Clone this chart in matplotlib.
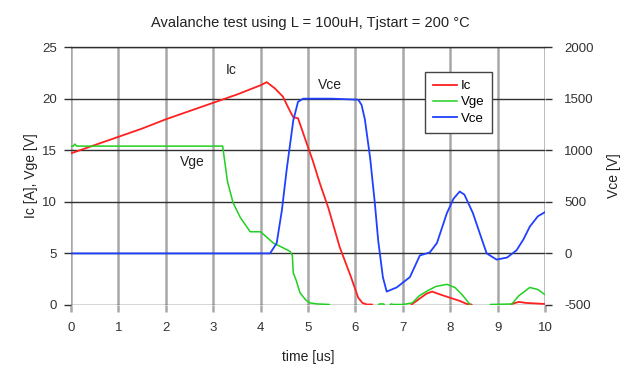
import matplotlib.pyplot as plt
import numpy as np

plt.rcParams['font.family'] = ['Liberation Sans', 'DejaVu Sans']
plt.rcParams['axes.unicode_minus'] = False

# Collector current Ic [A]
ic_t = [0.0, 0.5, 1.0, 1.5, 2.0, 2.5, 3.0, 3.5, 4.0, 4.13, 4.3, 4.47, 4.62, 4.69,
        4.79, 4.97, 5.1, 5.25, 5.43, 5.67, 5.9, 6.06, 6.15, 6.24, 6.35, 6.4,
        7.1, 7.2, 7.35, 7.5, 7.62, 7.8, 8.0, 8.2, 8.35, 8.45, 8.5, 9.25, 9.3,
        9.45, 9.6, 9.8, 10.0]
ic_val = [14.7, 15.5, 16.3, 17.1, 18.0, 18.8, 19.6, 20.4, 21.3, 21.6, 21.0, 20.2,
          18.8, 18.2, 18.1, 15.7, 14.0, 11.8, 9.4, 5.6, 2.8, 0.7, 0.2, 0.05,
          0.05, -0.4, -0.4, 0.1, 0.6, 1.1, 1.3, 1.0, 0.7, 0.4, 0.1, 0.05, -0.4,
          -0.4, 0.1, 0.3, 0.2, 0.15, 0.1]

# Gate voltage Vge [V]
vge_t = [0.0, 0.05, 0.08, 0.12, 1.0, 2.0, 3.0, 3.2, 3.3, 3.42, 3.57, 3.78, 4.0,
         4.27, 4.45, 4.62, 4.67, 4.69, 4.75, 4.83, 4.95, 5.04, 5.2, 5.45, 5.5,
         6.45, 6.5, 6.6, 6.65, 6.75, 6.8, 7.0, 7.2, 7.35, 7.53, 7.7, 7.93, 8.1,
         8.25, 8.42, 8.45, 8.8, 8.85, 9.3, 9.45, 9.68, 9.85, 10.0]
vge_val = [15.4, 15.4, 15.6, 15.4, 15.4, 15.4, 15.4, 15.4, 12.0, 9.9, 8.5, 7.1,
           7.1, 6.0, 5.6, 5.2, 4.8, 3.1, 2.4, 1.2, 0.5, 0.2, 0.1, 0.05, -0.4,
           -0.4, 0.1, 0.1, -0.4, 0.1, 0.05, 0.05, 0.2, 0.9, 1.4, 1.8, 2.0, 1.7,
           1.0, 0.05, -0.4, -0.4, 0.05, 0.1, 0.9, 1.7, 1.5, 1.0]

# Collector-emitter voltage Vce [V]
vce_t = [0.0, 1.0, 2.0, 3.0, 4.0, 4.2, 4.34, 4.45, 4.55, 4.69, 4.79, 4.9, 5.5,
         6.06, 6.13, 6.2, 6.31, 6.41, 6.48, 6.58, 6.66, 6.87, 7.15, 7.36, 7.57,
         7.72, 7.93, 8.07, 8.2, 8.3, 8.48, 8.65, 8.77, 8.98, 9.2, 9.4, 9.55,
         9.68, 9.85, 10.0]
vce_val = [0, 0, 0, 0, 0, 0, 100, 420, 810, 1290, 1470, 1500, 1500, 1490, 1440,
           1300, 930, 490, 130, -230, -370, -330, -230, -20, 10, 100, 390, 530,
           600, 570, 390, 160, 0, -60, -40, 30, 140, 260, 360, 400]

x_ticks = np.arange(0, 11, 1)
left_ticks = [0, 5, 10, 15, 20, 25]
right_ticks = [-500, 0, 500, 1000, 1500, 2000]

fig = plt.figure(figsize=(6.2, 3.65), dpi=100)
ax = fig.add_axes([0.1145, 0.1644, 0.7645, 0.7066])

ax.plot(ic_t, ic_val, color='#ff2020', lw=1.3, zorder=3)
ax.plot(vge_t, vge_val, color='#20d020', lw=1.1, zorder=3)

ax.set_xlim(0, 10)
ax.set_ylim(0, 25)
ax.set_xticks(x_ticks)
ax.set_yticks(left_ticks)

ax.grid(axis='x', color='#a8a8a8', lw=1.8)
ax.grid(axis='y', color='#303030', lw=1.0)
ax.set_axisbelow(True)
for side in ['left', 'right', 'bottom']:
    ax.spines[side].set_visible(False)
ax.spines['top'].set_color('#303030')
ax.spines['top'].set_linewidth(1.0)
ax.tick_params(axis='x', length=5, width=1.8, color='#a8a8a8',
               labelsize=9.5, labelcolor='#333333', pad=7.5)
ax.tick_params(axis='y', length=5, width=1.0, color='#303030',
               labelsize=9.5, labelcolor='#333333', pad=5)

ax.set_xlabel('time [us]', fontsize=10, color='#222222', labelpad=11)
ax.set_ylabel('Ic [A], Vge [V]', fontsize=10, color='#222222', labelpad=3)

ax2 = ax.twinx()
ax2.plot(vce_t, vce_val, color='#2040ff', lw=1.3, zorder=3)
ax2.set_ylim(-500, 2000)
ax2.set_yticks(right_ticks)
for side in ['left', 'right', 'bottom', 'top']:
    ax2.spines[side].set_visible(False)
ax2.tick_params(axis='y', length=5, width=1.0, color='#303030',
                labelsize=9.5, labelcolor='#333333', pad=9)
ax2.set_ylabel('Vce [V]', fontsize=10, color='#222222', labelpad=9)

ax.text(3.38, 22.8, 'Ic', fontsize=10, color='#222222', ha='center', va='center')
ax.text(2.55, 13.9, 'Vge', fontsize=10, color='#222222', ha='center', va='center')
ax.text(5.46, 21.3, 'Vce', fontsize=10, color='#222222', ha='center', va='center')

fig.suptitle('Avalanche test using L = 100uH, Tjstart = 200 °C',
             fontsize=10.5, color='#222222', y=0.955)

handles = [plt.Line2D([], [], color='#ff2020', lw=1.3),
           plt.Line2D([], [], color='#20d020', lw=1.1),
           plt.Line2D([], [], color='#2040ff', lw=1.3)]
leg = ax2.legend(handles, ['Ic', 'Vge', 'Vce'], loc='upper left',
                 bbox_to_anchor=(0.747, 0.903), fontsize=9.5, frameon=True,
                 fancybox=False, framealpha=1, edgecolor='#444444',
                 handlelength=1.8, handletextpad=0.3, borderpad=0.6,
                 labelspacing=0.3, borderaxespad=0)
leg.get_frame().set_linewidth(1.0)

fig.savefig('out.png', dpi=100)
